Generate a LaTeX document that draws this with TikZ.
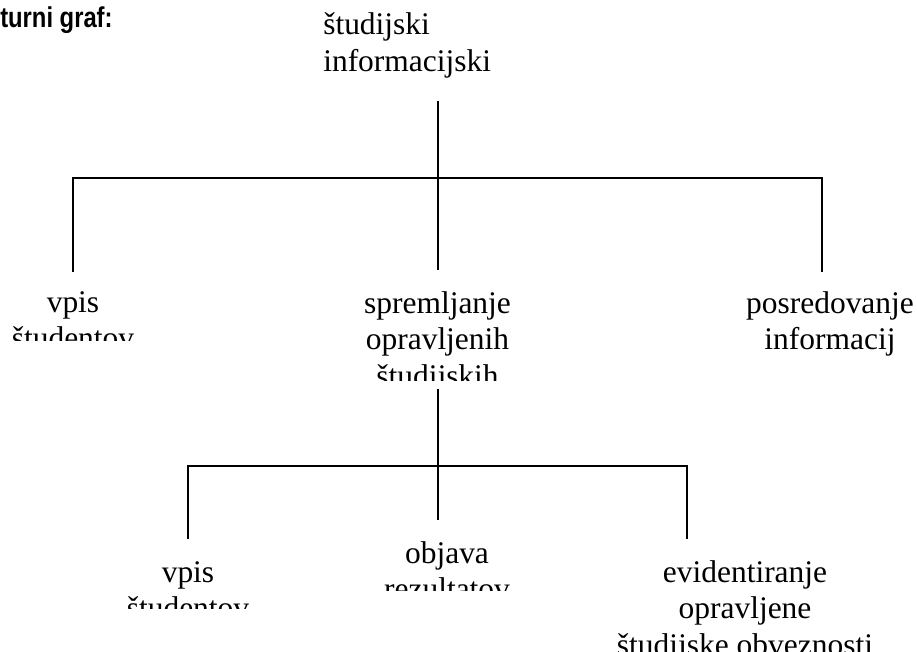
\documentclass[tikz,border=0pt]{standalone}
\usepackage{fontspec}
\setmainfont{Liberation Serif}
\newfontfamily\titlefont[FakeStretch=0.83]{Liberation Sans}
\newcommand\mylines[1]{\begin{tabular}[t]{@{}c@{}}#1\end{tabular}}
\newcommand\myleft[1]{\begin{tabular}[t]{@{}l@{}}#1\end{tabular}}
\begin{document}
\begin{tikzpicture}[x=0.75pt,y=-0.75pt,
  lbl/.style={font=\fontsize{23.6}{27.5}\selectfont, inner sep=0pt, anchor=base},
  ttl/.style={font=\titlefont\bfseries\fontsize{21.5}{25}\selectfont, inner sep=0pt, anchor=base west},
  edge/.style={line width=1.5pt, line join=miter}]
\useasboundingbox (0,0) rectangle (917,652);
\fill[white] (0,0) rectangle (917,652);

% title
\node[ttl] (title) at (0,28) {turni graf:};

% texts
\node[lbl, anchor=base west] (root) at (323,35) {\myleft{študijski\\informacijski}};
\begin{scope}
  \clip (0,280) rectangle (200,340);
  \node[lbl] (a) at (73,312) {\mylines{vpis\\študentov}};
\end{scope}
\begin{scope}
  \clip (300,280) rectangle (580,380);
  \node[lbl] (b) at (437.5,313) {\mylines{spremljanje\\opravljenih\\študijskih}};
\end{scope}
\node[lbl] (c) at (830,313) {\mylines{posredovanje\\informacij}};
\begin{scope}
  \clip (100,550) rectangle (280,608);
  \node[lbl] (ba) at (188,582) {\mylines{vpis\\študentov}};
\end{scope}
\begin{scope}
  \clip (360,530) rectangle (540,590);
  \node[lbl] (bb) at (447,563) {\mylines{objava\\rezultatov}};
\end{scope}
\node[lbl] (bc) at (745,582) {\mylines{evidentiranje\\opravljene\\študijske obveznosti}};

% connector points
\coordinate (r0) at (437.7,101);
\coordinate (rj) at (437.7,177.7);
\coordinate (aT) at (72.7,177.7);
\coordinate (aB) at (72.7,272);
\coordinate (bB) at (437.7,270);
\coordinate (cT) at (822,177.7);
\coordinate (cB) at (822,272);
\coordinate (b0) at (437.7,389);
\coordinate (bj) at (437.7,466);
\coordinate (baT) at (187.7,466);
\coordinate (baB) at (187.7,539);
\coordinate (bbB) at (437.7,520);
\coordinate (bcT) at (687,466);
\coordinate (bcB) at (687,539);

\draw[edge] (r0) -- (bB);
\draw[edge] (aB) -- (aT) -- (cT) -- (cB);
\draw[edge] (b0) -- (bbB);
\draw[edge] (baB) -- (baT) -- (bcT) -- (bcB);
\end{tikzpicture}
\end{document}
